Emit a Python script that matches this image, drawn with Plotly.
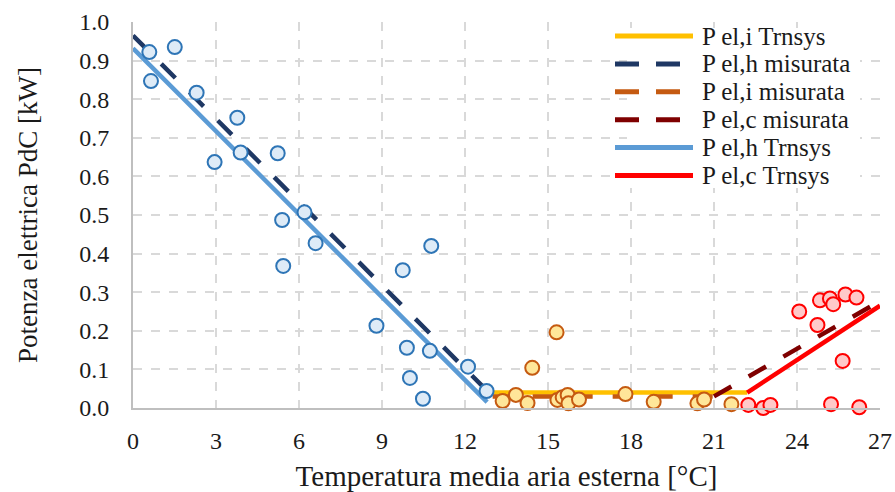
import plotly.graph_objects as go

# ---- measured points ----
heat_x = [0.59, 0.65, 1.51, 2.30, 2.95, 3.77, 3.89, 5.23, 5.39, 5.43, 6.20, 6.60,
          8.80, 9.75, 9.90, 10.01, 10.48, 10.73, 10.78, 12.11, 12.78]
heat_y = [0.922, 0.847, 0.935, 0.817, 0.637, 0.752, 0.662, 0.660, 0.487, 0.368, 0.507, 0.427,
          0.213, 0.357, 0.156, 0.078, 0.024, 0.148, 0.420, 0.107, 0.044]

idle_x = [13.36, 13.84, 14.26, 14.43, 15.31, 15.34, 15.53, 15.71, 15.74, 16.12,
          17.80, 18.82, 20.40, 20.64, 21.63]
idle_y = [0.018, 0.034, 0.013, 0.104, 0.196, 0.021, 0.028, 0.034, 0.012, 0.022,
          0.036, 0.016, 0.012, 0.022, 0.010]

cool_x = [22.24, 22.78, 23.04, 24.08, 24.74, 24.83, 25.19, 25.23, 25.31, 25.65, 25.75, 26.15, 26.25]
cool_y = [0.008, 0.000, 0.008, 0.250, 0.215, 0.279, 0.284, 0.010, 0.269, 0.122, 0.294, 0.286, 0.002]

# ---- regression / model lines ----
i_trn_x, i_trn_y = [12.8, 22.2], [0.040, 0.040]
h_mis_x, h_mis_y = [0.0, 13.0], [0.965, 0.030]
i_mis_x, i_mis_y = [13.0, 21.0], [0.030, 0.030]
c_mis_x, c_mis_y = [21.0, 27.0], [0.030, 0.277]
h_trn_x, h_trn_y = [0.0, 12.8], [0.932, 0.015]
c_trn_x, c_trn_y = [22.2, 27.0], [0.040, 0.265]

x_ticks = [0, 3, 6, 9, 12, 15, 18, 21, 24, 27]
y_ticks = [0.0, 0.1, 0.2, 0.3, 0.4, 0.5, 0.6, 0.7, 0.8, 0.9, 1.0]

FONT = "Liberation Serif, Times New Roman, serif"
TXT = "#1a1a1a"
DASH = "20px,20px"

# plot area in pixels (for the hand-drawn legend box)
L, R, T, B = 133, 880, 22, 408
def px(xpix):
    return (xpix - L) / (R - L)
def py(ypix):
    return (B - ypix) / (B - T)

fig = go.Figure()

series = []
def line(x, y, name, color, dash="solid", width=4.5):
    fig.add_trace(go.Scatter(x=x, y=y, mode="lines", name=name, showlegend=False,
                             line=dict(color=color, width=width, dash=dash)))
    series.append((name, color, dash))

line(i_trn_x, i_trn_y, "P el,i Trnsys", "#FFC000")
line(h_mis_x, h_mis_y, "P el,h misurata", "#1F3864", DASH)
line(i_mis_x, i_mis_y, "P el,i misurata", "#C55A11", DASH)
line(c_mis_x, c_mis_y, "P el,c misurata", "#7F0000", DASH)
line(h_trn_x, h_trn_y, "P el,h Trnsys", "#5B9BD5")
line(c_trn_x, c_trn_y, "P el,c Trnsys", "#FF0000")

def pts(x, y, fill, edge):
    fig.add_trace(go.Scatter(x=x, y=y, mode="markers", showlegend=False, cliponaxis=False,
                             marker=dict(size=14, color=fill, line=dict(color=edge, width=2))))

pts(heat_x, heat_y, "#DEEBF7", "#2E75B6")
pts(idle_x, idle_y, "#FFE699", "#C55A11")
pts(cool_x, cool_y, "#FFC9C9", "#FF0000")

# ---- legend (drawn as shapes + text so its spacing matches the original) ----
shapes = [dict(type="rect", xref="paper", yref="paper", layer="above",
               x0=px(627), x1=px(860), y0=py(188), y1=py(28),
               fillcolor="white", line=dict(width=0))]
annotations = []
row0, step = 36, 27.9
for k, (name, color, dash) in enumerate(series):
    yy = py(row0 + k * step)
    solid = dash == "solid"
    shapes.append(dict(type="line", xref="paper", yref="paper", layer="above",
                       x0=px(615), x1=px(693 if solid else 680), y0=yy, y1=yy,
                       line=dict(color=color, width=5,
                                 dash="solid" if solid else "24px,17px")))
    annotations.append(dict(xref="paper", yref="paper", x=px(700), y=yy,
                            xanchor="left", yanchor="middle", showarrow=False,
                            text=name, font=dict(family=FONT, size=25, color=TXT)))

fig.update_layout(
    width=895, height=492,
    margin=dict(l=L, r=895 - R, t=T, b=492 - B, autoexpand=False),
    paper_bgcolor="white", plot_bgcolor="white",
    font=dict(family=FONT, size=24, color=TXT),
    showlegend=False,
    shapes=shapes, annotations=annotations,
)
fig.update_xaxes(range=[0, 27], tickvals=x_ticks, ticktext=[str(v) for v in x_ticks],
                 automargin=False,
                 showgrid=True, gridcolor="#D9D9D9", gridwidth=2, griddash="dash",
                 showline=True, linecolor="#BFBFBF", linewidth=2, zeroline=False,
                 ticks="", ticklabelstandoff=10,
                 tickfont=dict(family=FONT, size=24, color=TXT),
                 title=dict(text="Temperatura media aria esterna [°C]",
                            font=dict(family=FONT, size=29, color=TXT), standoff=16))
fig.update_yaxes(range=[0, 1.0], tickvals=y_ticks, ticktext=[f"{v:.1f}" for v in y_ticks],
                 automargin=False,
                 showgrid=True, gridcolor="#D9D9D9", gridwidth=2, griddash="dash",
                 showline=True, linecolor="#BFBFBF", linewidth=2, zeroline=False,
                 ticks="", ticklabelstandoff=17,
                 tickfont=dict(family=FONT, size=24, color=TXT),
                 title=dict(text="Potenza elettrica PdC [kW]",
                            font=dict(family=FONT, size=27, color=TXT), standoff=34))

fig.write_html("out.html")
